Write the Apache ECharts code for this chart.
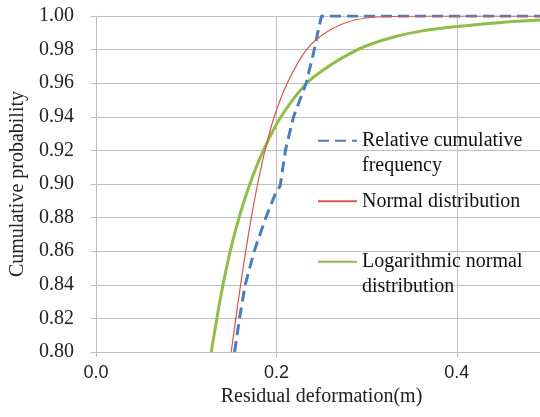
<!DOCTYPE html>
<html>
<head>
<meta charset="utf-8">
<script src="https://cdn.jsdelivr.net/npm/echarts@6/dist/echarts.min.js"></script>
<style>
  html, body { margin: 0; padding: 0; background: #ffffff; }
  #chart { width: 540px; height: 417px; }
</style>
</head>
<body>
<div id="chart"></div>
<script>
// Series names
const seriesNames = ['Relative cumulative frequency', 'Normal distribution', 'Logarithmic normal distribution'];

// Relative cumulative frequency [x (m), cumulative probability]
const relativeFreq = [
  [0.1536, 0.800], [0.1591, 0.820], [0.1654, 0.840], [0.1754, 0.860],
  [0.1883, 0.880], [0.1987, 0.894], [0.2042, 0.899], [0.2100, 0.920],
  [0.2190, 0.940], [0.2330, 0.960], [0.2420, 0.980], [0.2460, 0.9905],
  [0.2500, 1.000], [0.5000, 1.000]
];

// Normal distribution fit
const normalDist = [
  [0.1499, 0.800], [0.1550, 0.820], [0.1603, 0.840], [0.1660, 0.860],
  [0.1722, 0.880], [0.1792, 0.900], [0.1874, 0.920], [0.1976, 0.940],
  [0.2120, 0.960], [0.2335, 0.980], [0.2545, 0.990], [0.2790, 0.9964],
  [0.3000, 0.9988], [0.3250, 0.9997], [0.3700, 1.000], [0.5000, 1.000]
];

// Logarithmic normal distribution fit
const logNormalDist = [
  [0.1278, 0.800], [0.1340, 0.820], [0.1408, 0.840], [0.1488, 0.860],
  [0.1586, 0.880], [0.1706, 0.900], [0.1856, 0.920], [0.2051, 0.940],
  [0.2335, 0.960], [0.2600, 0.9708], [0.2800, 0.9772], [0.3000, 0.9823],
  [0.3300, 0.9875], [0.3600, 0.9910], [0.4000, 0.9937], [0.4500, 0.9962],
  [0.5000, 0.9978]
];

// Axis settings
const xTicks = { min: 0, max: 0.5, interval: 0.2 };
const yTicks = { min: 0.80, max: 1.00, interval: 0.02 };

const serif = '"Liberation Serif", "Times New Roman", "DejaVu Serif", serif';
const sans = '"Liberation Sans", Arial, sans-serif';
const gridColor = '#bfbfbf';

const chart = echarts.init(document.getElementById('chart'), null, { renderer: 'canvas' });

function legendAt(name, top, label) {
  return {
    show: true,
    data: [name],
    left: 317,
    top: top,
    orient: 'vertical',
    padding: 0,
    itemWidth: 39,
    itemHeight: 14,
    selectedMode: false,
    itemStyle: { opacity: 0 },
    formatter: function () { return label; },
    textStyle: { fontFamily: serif, fontSize: 20, color: '#111', lineHeight: 24.5 }
  };
}

chart.setOption({
  backgroundColor: '#ffffff',
  animation: false,
  grid: { left: 96, right: -7, top: 16, bottom: 65, containLabel: false, outerBoundsMode: 'none' },
  legend: [
    legendAt(seriesNames[0], 104, '\nRelative cumulative\nfrequency'),
    legendAt(seriesNames[1], 189, 'Normal distribution'),
    legendAt(seriesNames[2], 225, '\nLogarithmic normal\ndistribution')
  ],
  xAxis: {
    type: 'value',
    min: xTicks.min, max: xTicks.max, interval: xTicks.interval,
    name: 'Residual deformation(m)',
    nameLocation: 'middle',
    nameGap: 30,
    nameTextStyle: { fontFamily: serif, fontSize: 20, color: '#222' },
    axisLine: { show: true, lineStyle: { color: gridColor, width: 1 } },
    axisTick: { show: true, length: 5, lineStyle: { color: gridColor } },
    axisLabel: {
      show: true, margin: 12, fontFamily: sans, fontSize: 18, color: '#222',
      showMaxLabel: false,
      formatter: function (v) { return v.toFixed(1); }
    },
    splitLine: { show: true, lineStyle: { color: gridColor, width: 1 } }
  },
  yAxis: {
    type: 'value',
    min: yTicks.min, max: yTicks.max, interval: yTicks.interval,
    name: 'Cumulative probability',
    nameLocation: 'middle',
    nameRotate: 90,
    nameGap: 56,
    nameTextStyle: { fontFamily: serif, fontSize: 20, color: '#222' },
    axisLine: { show: true, lineStyle: { color: gridColor, width: 1 } },
    axisTick: { show: true, length: 5, lineStyle: { color: gridColor } },
    axisLabel: {
      show: true, margin: 22, fontFamily: serif, fontSize: 20, color: '#222',
      formatter: function (v) { return v.toFixed(2); }
    },
    splitLine: { show: true, lineStyle: { color: gridColor, width: 1 } }
  },
  series: [
    {
      name: seriesNames[0], type: 'line', data: relativeFreq,
      showSymbol: false, symbol: 'none', z: 3,
      lineStyle: { color: '#4a7ebb', width: 3, type: [11, 6] },
      itemStyle: { color: '#4a7ebb' }
    },
    {
      name: seriesNames[1], type: 'line', data: normalDist,
      showSymbol: false, symbol: 'none', smooth: 0.3, z: 4,
      lineStyle: { color: '#d9534f', width: 1.2 },
      itemStyle: { color: '#d9534f' }
    },
    {
      name: seriesNames[2], type: 'line', data: logNormalDist,
      showSymbol: false, symbol: 'none', smooth: 0.3, z: 2,
      lineStyle: { color: '#8fbc4a', width: 3 },
      itemStyle: { color: '#8fbc4a' }
    }
  ]
});
</script>
</body>
</html>
